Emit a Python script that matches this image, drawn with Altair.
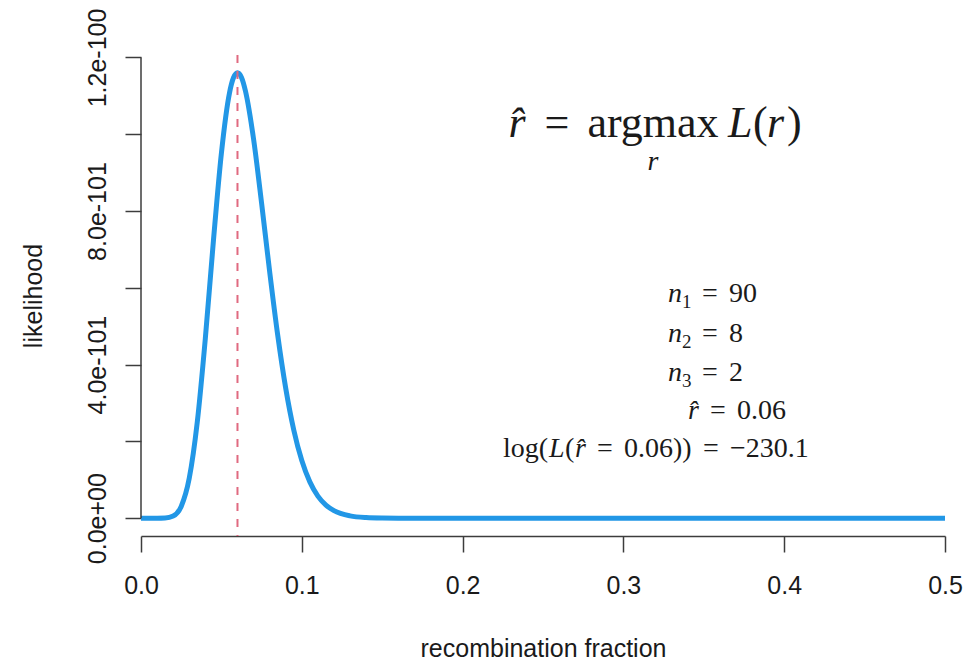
import altair as alt
import pandas as pd

# recombination fraction r and likelihood L(r) (values read in units of 1e-101)
r_values = [0.0, 0.01, 0.015, 0.02, 0.025, 0.03, 0.035, 0.04, 0.045, 0.05, 0.055,
            0.0575, 0.06, 0.0625, 0.065, 0.07, 0.075, 0.08, 0.085, 0.09, 0.095,
            0.10, 0.105, 0.11, 0.115, 0.12, 0.13, 0.14, 0.15, 0.16, 0.18,
            0.2, 0.25, 0.3, 0.35, 0.4, 0.45, 0.5]
likelihood_e101 = [0.0, 0.0001, 0.0045, 0.055, 0.307, 1.039, 2.504, 4.679, 7.207, 9.507, 11.07,
                   11.47, 11.6, 11.48, 11.12, 9.876, 8.204, 6.424, 4.773, 3.384, 2.298,
                   1.500, 0.945, 0.576, 0.341, 0.196, 0.060, 0.0165, 0.0042, 0.001, 0.0001,
                   0.0, 0.0, 0.0, 0.0, 0.0, 0.0, 0.0]
x_ticks = [0.0, 0.1, 0.2, 0.3, 0.4, 0.5]
y_ticks_e101 = [0, 2, 4, 6, 8, 10, 12]
r_hat = [0.06]

df = pd.DataFrame({"r": r_values, "L": [v * 1e-101 for v in likelihood_e101]})
y_ticks = [v * 1e-101 for v in y_ticks_e101]

W, H = 804, 481
X0, Y0 = 141, 55  # plot origin on the page (for annotation placement)
peak = max(df["L"])
pad = 0.04 * peak
xs = alt.Scale(domain=[0, 0.5], nice=False, zero=False)
ys = alt.Scale(domain=[-pad, peak + pad], nice=False, zero=False)

AX = "#3c3c3c"
TXT = "#1a1a1a"
SANS = "Liberation Sans"
SERIF = "Liberation Serif"

label_expr = ("abs(datum.value / 4e-101 - round(datum.value / 4e-101)) < 0.01 ? "
              "(datum.value < 1e-110 ? '0.0e+00' : format(datum.value, '.1e')) : ''")

curve = alt.Chart(df).mark_line(
    color="#2297E6", strokeWidth=5, interpolate="monotone", clip=True
).encode(
    x=alt.X("r:Q", scale=xs, title="recombination fraction",
            axis=alt.Axis(values=x_ticks, format=".1f", grid=False,
                          domainColor=AX, domainWidth=1.5, tickColor=AX, tickWidth=1.5,
                          tickSize=16, labelFontSize=25, labelFont=SANS, labelColor=TXT,
                          labelPadding=21, labelFlush=False, labelOverlap=False,
                          titleFontSize=25, titleFont=SANS, titleFontWeight="normal",
                          titleColor=TXT, titleX=W / 2, titleY=120, titleAlign="center",
                          titleBaseline="alphabetic")),
    y=alt.Y("L:Q", scale=ys, title="likelihood",
            axis=alt.Axis(values=y_ticks, grid=False, domain=False,
                          tickColor=AX, tickWidth=1.5, tickSize=16,
                          labelExpr=label_expr, labelAngle=270, labelAlign="center",
                          labelBaseline="alphabetic", labelPadding=20,
                          labelFontSize=25, labelFont=SANS, labelColor=TXT,
                          labelOverlap=False, labelFlush=False,
                          titleFontSize=25, titleFont=SANS, titleFontWeight="normal",
                          titleColor=TXT, titleAngle=270, titleX=-100, titleY=H / 2,
                          titleAlign="center", titleBaseline="alphabetic")),
)

yline = alt.Chart(pd.DataFrame({"y0": [y_ticks[0]], "y1": [y_ticks[-1]]})).mark_rule(
    color=AX, strokeWidth=1.5
).encode(x=alt.value(0), y=alt.Y("y0:Q", scale=ys), y2="y1:Q")

vline = alt.Chart(pd.DataFrame({"r_hat": r_hat})).mark_rule(
    color="#E06A80", strokeWidth=2, strokeDash=[8, 8]
).encode(x=alt.X("r_hat:Q", scale=xs))

one = pd.DataFrame({"k": [0]})


def txt(s, px, py, size, italic=False, align="left"):
    return alt.Chart(one).mark_text(
        text=s, font=SERIF, fontSize=size, fontStyle="italic" if italic else "normal",
        align=align, baseline="alphabetic", color=TXT
    ).encode(x=alt.value(px - X0), y=alt.value(py - Y0))


HB = 137  # header baseline
pieces = [
    txt("r\u0302", 517, HB, 44, True, "center"),
    txt("=", 557, HB, 44, align="center"),
    txt("argmax", 653, HB, 44, align="center"),
    txt("L", 728, HB, 44, True),
    txt("(", 753, HB, 44),
    txt("r", 767, HB, 44, True),
    txt(")", 787, HB, 44),
    txt("r", 653, 170, 28, True, "center"),
]
FS = 28
lines = [("1", "90", 302), ("2", "8", 342), ("3", "2", 381)]
for sub, val, base in lines:
    pieces += [txt("n", 668, base, FS, True),
               txt(sub, 682, base + 6, 19),
               txt("=", 702, base, FS),
               txt(val, 729, base, FS)]
pieces += [
    txt("r\u0302", 688, 419, FS, True),
    txt("=", 710, 419, FS),
    txt("0.06", 737, 419, FS),
    txt("log(", 503, 457, FS),
    txt("L", 549, 457, FS, True),
    txt("(", 565, 457, FS),
    txt("r\u0302", 575, 457, FS, True),
    txt("=", 597, 457, FS),
    txt("0.06))", 624, 457, FS),
    txt("=", 703, 457, FS),
    txt("\u2212230.1", 730, 457, FS),
]

chart = alt.layer(curve, vline, yline, *pieces).properties(
    width=W, height=H, background="white",
    autosize=alt.AutoSizeParams(type="none"),
    padding={"left": 133, "top": 47, "right": 20, "bottom": 125},
).configure_view(stroke="transparent", strokeWidth=0)

chart.save("out.html", embed_options={"renderer": "svg", "actions": False})
